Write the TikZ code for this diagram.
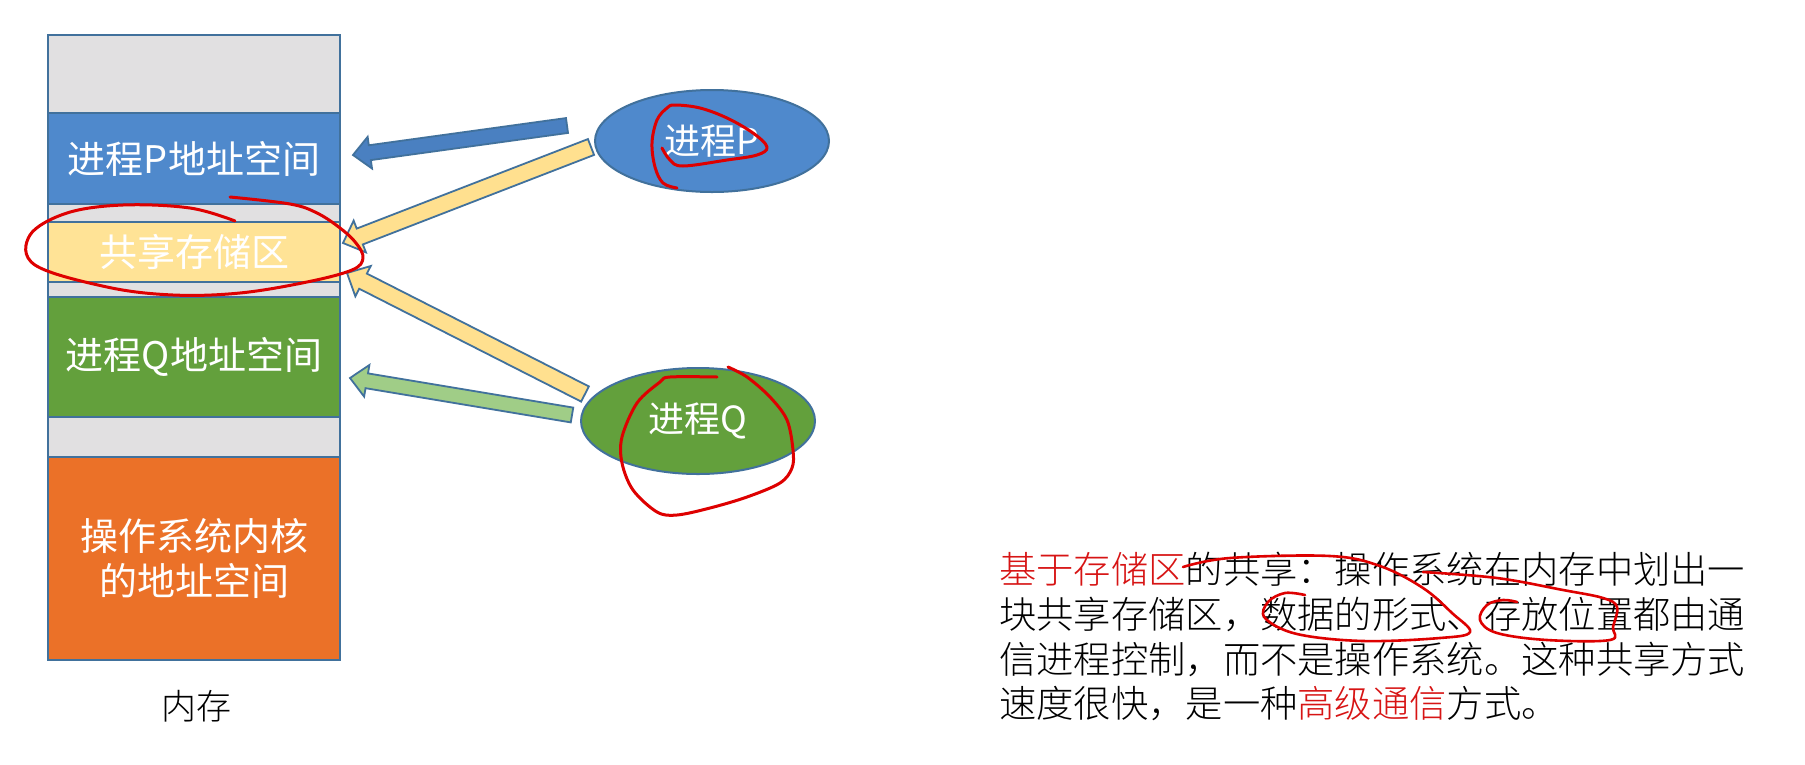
\documentclass[tikz,border=0pt]{standalone}
\usepackage{fontspec}
\setmainfont{Liberation Sans}
\newfontfamily\cjksans{Noto Sans CJK SC}
\newfontfamily\song{Noto Sans CJK SC Light}
\usetikzlibrary{calc,shapes.geometric}
\definecolor{memgray}{RGB}{225,224,225}
\definecolor{memblue}{RGB}{79,137,204}
\definecolor{memyellow}{RGB}{255,227,150}
\definecolor{memgreen}{RGB}{99,160,60}
\definecolor{memorange}{RGB}{235,113,40}
\definecolor{edgeblue}{RGB}{65,113,156}
\definecolor{arrblue}{RGB}{74,128,193}
\definecolor{arryellow}{RGB}{255,224,143}
\definecolor{arrgreen}{RGB}{160,205,135}
\definecolor{penred}{RGB}{222,0,0}
\definecolor{txtred}{RGB}{215,20,20}
\newcommand\blockarrow[6]{%
  \coordinate (ba-b) at ($(#2)!#6!(#1)$);
  \filldraw[arrowline, fill=#3]
    ($(#1)!#4!90:(#2)$) -- ($(ba-b)!#4!-90:(#1)$) -- ($(ba-b)!#5!-90:(#1)$) -- (#2)
    -- ($(ba-b)!#5!90:(#1)$) -- ($(ba-b)!#4!90:(#1)$) -- ($(#1)!#4!-90:(#2)$) -- cycle;
}
\begin{document}
\begin{tikzpicture}[x=1pt,y=-1pt,
  seg/.style={draw=edgeblue, line width=2pt, minimum width=292pt, inner sep=0pt,
    text=white, font=\cjksans\fontsize{38}{45}\selectfont, align=center},
  proc/.style={ellipse, draw=edgeblue, line width=2pt, minimum width=234pt, inner sep=0pt,
    text=white, font=\cjksans\fontsize{36}{40}\selectfont},
  arrowline/.style={draw=edgeblue, line width=1.8pt, line join=miter},
  redpen/.style={draw=penred, line width=3pt, line cap=round, line join=round},
  para/.style={anchor=west, inner sep=0pt, font=\song\fontsize{37.3}{44}\selectfont}]
\fill[white] (0,0) rectangle (1805,764);
\useasboundingbox (0,0) rectangle (1805,764);

% memory column
\node[seg, fill=memgray, minimum height=78pt] (g1) at (194,74) {};
\node[seg, fill=memblue, minimum height=91pt] (pmem) at (194,158.5) {进程P地址空间};
\node[seg, fill=memgray, minimum height=18pt] (g2) at (194,213) {};
\node[seg, fill=memyellow, minimum height=60pt] (shm) at (194,252) {共享存储区};
\node[seg, fill=memgray, minimum height=15pt] (g3) at (194,289.5) {};
\node[seg, fill=memgreen, minimum height=120pt] (qmem) at (194,357) {进程Q地址空间};
\node[seg, fill=memgray, minimum height=40pt] (g4) at (194,437) {};
\node[seg, fill=memorange, minimum height=203pt] (kern) at (194,558.5) {操作系统内核\\的地址空间};
\node[font=\song\fontsize{35}{40}\selectfont, inner sep=0pt] (memlabel) at (196,706) {内存};

% arrows
\coordinate (bT) at (567,125.5);
\coordinate (bH) at (353,155);
\coordinate (y1T) at (591,147);
\coordinate (y1H) at (343,243);
\coordinate (y2T) at (585,394);
\coordinate (y2H) at (347,273);
\coordinate (gT) at (572,415);
\coordinate (gH) at (350,378);
\blockarrow{bT}{bH}{arrblue}{7.5pt}{16pt}{17pt}
\blockarrow{y1T}{y1H}{arryellow}{8.5pt}{17pt}{18pt}
\blockarrow{y2T}{y2H}{arryellow}{8.5pt}{17pt}{18pt}
\blockarrow{gT}{gH}{arrgreen}{7.5pt}{16pt}{17pt}

% processes
\node[proc, fill=memblue, minimum height=102pt] (procP) at (712,141) {进程P};
\node[proc, fill=memgreen, minimum height=106pt] (procQ) at (698,421) {进程Q};

% paragraph
\node[para] (l1) at (999,569) {\textcolor{txtred}{基于存储区}的共享：操作系统在内存中划出一};
\node[para] (l2) at (999,614) {块共享存储区，数据的形式、存放位置都由通};
\node[para] (l3) at (999,659) {信进程控制，而不是操作系统。这种共享方式};
\node[para] (l4) at (999,704) {速度很快，是一种\textcolor{txtred}{高级通信}方式。};

% red pen annotations
\draw[redpen] plot[smooth, tension=0.6] coordinates {(235,221) (190,208) (123,205) (67,213) (30,235) (35,265) (107,287) (173,295) (240,293) (307,282) (352,270) (363,258) (356,243) (340,228) (317,213) (290,204) (230,197)};
\draw[redpen] plot[smooth, tension=0.6] coordinates {(677,188) (663,183) (655,167) (652,143) (657,120) (667,108) (675,105) (700,108) (727,118) (753,133) (767,147) (757,155) (727,160) (683,166) (670,160) (662,148)};
\draw[redpen] plot[smooth, tension=0.55] coordinates {(717,377) (670,377) (660,382) (637,403) (622,437) (622,463) (633,490) (657,512) (677,515) (710,508) (747,497) (780,483) (792,468) (793,450) (787,420) (770,397) (747,377) (728,367)};
\draw[redpen, line width=2.6pt] plot[smooth, tension=0.6] coordinates {(1183,567) (1230,558) (1330,556) (1380,566) (1423,588) (1452,613) (1470,632) (1440,638) (1363,641) (1297,634) (1265,618) (1268,602) (1285,593) (1305,595)};
\draw[redpen, line width=2.6pt] plot[smooth, tension=0.6] coordinates {(1423,572) (1497,578) (1563,590) (1603,598) (1617,607) (1613,627) (1610,640) (1547,640) (1497,633) (1480,620) (1487,605) (1503,600) (1517,602)};
\end{tikzpicture}
\end{document}
